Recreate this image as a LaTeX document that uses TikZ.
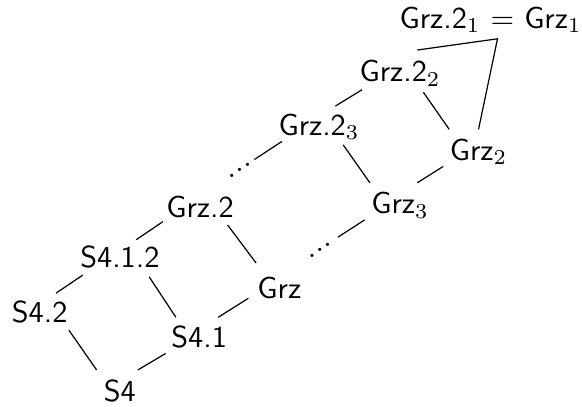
\documentclass[tikz,border=0pt]{standalone}
\usepackage{amssymb,amsmath}
\usepackage{tikz}
\usetikzlibrary{calc}
\newcommand{\updots}{\mathinner{\mkern1mu\raise1pt\hbox{.}\kern-0.2pt\raise2.8pt\hbox{.}\kern-0.2pt\raise4.6pt\hbox{.}\mkern1mu}}
\tikzset{
    logic/.style={font=\sffamily}
}
\begin{document}
\begin{tikzpicture}[scale=1]
\useasboundingbox (0,0) rectangle (6.75,4.72);
\foreach \x/\y/\p/\labeltext in {1.39/0.19/s4/{S4}, 0.46/1.10/s42/{S4.2}, 2.31/0.81/s41/{S4.1}, 1.39/1.74/s412/{S4.1.2}, 3.24/1.38/grz/{Grz}, 2.32/2.32/grzb/{Grz.2}, 4.64/2.34/grzc/{Grz$_3$}, 3.70/3.25/grzbc/{Grz.2$_3$}, 5.55/2.96/grzd/{Grz$_2$}, 4.64/3.87/grzbd/{Grz.2$_2$}, 5.69/4.49/top/{Grz.2$_1$ $=$ Grz$_1$}}{
    \node[logic] (\p) at (\x,\y) {\labeltext};
}
\node (dotsa) at (2.78,2.73) {$\updots$};
\node (dotsb) at (3.71,1.80) {$\updots$};
\coordinate (topfoot) at (5.77,4.27);
% going up to the right
\foreach \a/\sa/\b/\sb in {s42/{0.19,0.22}/s412/{-0.43,-0.21}, s4/{0.21,0.24}/s41/{-0.39,-0.19}, s412/{0.19,0.20}/grzb/{-0.43,-0.17}, s41/{0.22,0.23}/grz/{-0.36,-0.12}, dotsa/{0.17,0.14}/grzbc/{-0.43,-0.17}, dotsb/{0.21,0.17}/grzc/{-0.41,-0.17}, grzbc/{0.19,0.24}/grzbd/{-0.44,-0.19}, grzc/{0.20,0.26}/grzd/{-0.41,-0.17}}{
    \draw ([shift={(\sa)}]\a.center)--([shift={(\sb)}]\b.center);
}
% going down to the right
\foreach \a/\sa/\b/\sb in {s42/{0.34,-0.21}/s4/{-0.27,0.24}, s412/{0.34,-0.23}/s41/{-0.27,0.23}, grzb/{0.32,-0.21}/grz/{-0.27,0.29}, grzbc/{0.28,-0.21}/grzc/{-0.35,0.26}, grzbd/{0.27,-0.22}/grzd/{-0.34,0.26}}{
    \draw ([shift={(\sa)}]\a.center)--([shift={(\sb)}]\b.center);
}
\draw ([shift={(0.20,0.27)}]grzbd.center)--(topfoot)--([shift={(0,0.26)}]grzd.center);
\end{tikzpicture}
\end{document}
